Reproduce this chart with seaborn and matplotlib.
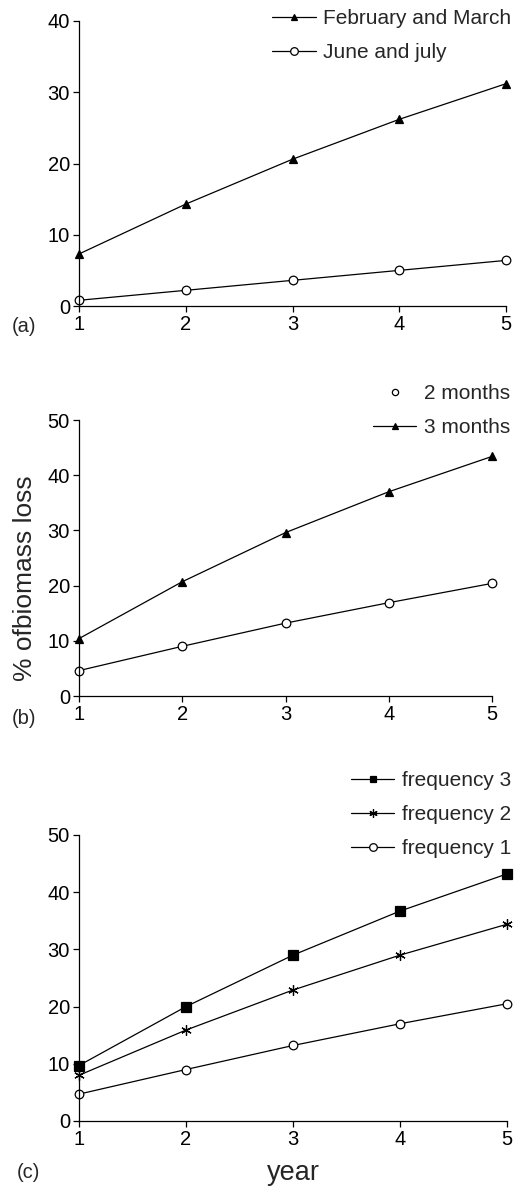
import matplotlib
matplotlib.use("Agg")
import matplotlib.pyplot as plt
from matplotlib.lines import Line2D
import seaborn as sns
import pandas as pd

# ---- data ----
years = [1, 2, 3, 4, 5]
feb_march = [7.3, 14.3, 20.6, 26.2, 31.2]
june_july = [0.8, 2.2, 3.6, 5.0, 6.4]
two_months = [4.6, 9.0, 13.2, 16.9, 20.4]
three_months = [10.4, 20.7, 29.6, 37.0, 43.4]
freq3 = [9.7, 20.0, 29.0, 36.7, 43.2]
freq2 = [8.0, 15.9, 22.9, 29.0, 34.4]
freq1 = [4.7, 9.0, 13.2, 17.0, 20.5]

yticks_a = [0, 10, 20, 30, 40]
yticks_bc = [0, 10, 20, 30, 40, 50]

sns.set_style("ticks")
plt.rcParams['font.family'] = ['Liberation Sans', 'DejaVu Sans']

W, H = 523, 1189
fig = plt.figure(figsize=(W / 100, H / 100), dpi=100)


def px_axes(left, right, top, bottom):
    return fig.add_axes([left / W, 1 - bottom / H, (right - left) / W, (bottom - top) / H])


ax_a = px_axes(79, 506, 21, 306)
ax_b = px_axes(79, 492, 420, 696)
ax_c = px_axes(79, 507, 835, 1121)

MS = 6.2
LW = 0.9
STAR = (6, 2, 0)


def draw(ax, y, marker, fc, ms=MS):
    df = pd.DataFrame({"year": years, "val": y})
    sns.lineplot(data=df, x="year", y="val", ax=ax, color="black", linewidth=LW,
                 marker=marker, markersize=ms, markerfacecolor=fc,
                 markeredgecolor="black", markeredgewidth=0.9, clip_on=False,
                 errorbar=None, legend=False)


draw(ax_a, feb_march, "^", "black")
draw(ax_a, june_july, "o", "white")

draw(ax_b, two_months, "o", "white")
draw(ax_b, three_months, "^", "black")

draw(ax_c, freq3, "s", "black", ms=6.5)
draw(ax_c, freq2, STAR, "black", ms=7.5)
draw(ax_c, freq1, "o", "white")

TICK_FS = 14.5
for ax, yt in [(ax_a, yticks_a), (ax_b, yticks_bc), (ax_c, yticks_bc)]:
    ax.set_xlim(1, 5)
    ax.set_ylim(yt[0], yt[-1])
    ax.set_xticks(years)
    ax.set_yticks(yt)
    ax.set_xlabel("")
    ax.set_ylabel("")
    sns.despine(ax=ax)
    for s in ["left", "bottom"]:
        ax.spines[s].set_color("black")
        ax.spines[s].set_linewidth(0.9)
    ax.tick_params(axis="both", direction="out", length=4.5, width=0.9,
                   color="black", labelsize=TICK_FS, labelcolor="black", pad=2.0)


def handle(marker, fc, line=True, ms=5.0):
    return Line2D([], [], color="black", linewidth=LW if line else 0,
                  linestyle="-" if line else "None", marker=marker, markersize=ms,
                  markerfacecolor=fc, markeredgecolor="black", markeredgewidth=0.9)


LEG_KW = dict(frameon=False, fontsize=15, handlelength=2.1, handletextpad=0.35,
              labelspacing=0.72, borderaxespad=0, borderpad=0, loc="upper right",
              bbox_transform=fig.transFigure)

ax_a.legend([handle("^", "black"), handle("o", "white", ms=5.5)],
            ["February and March", "June and july"],
            bbox_to_anchor=(511 / W, 1 - 9 / H), **LEG_KW)
ax_b.legend([handle("o", "white", line=False, ms=4.5), handle("^", "black")],
            ["2 months", "3 months"],
            bbox_to_anchor=(510 / W, 1 - 384 / H), **LEG_KW)
ax_c.legend([handle("s", "black"), handle(STAR, "black", ms=6), handle("o", "white", ms=5.5)],
            ["frequency 3", "frequency 2", "frequency 1"],
            bbox_to_anchor=(511 / W, 1 - 771 / H), **LEG_KW)

# axis titles
ax_b.set_ylabel("% ofbiomass loss", fontsize=19)
ax_b.yaxis.label.set_va("center")
ax_b.yaxis.set_label_coords((25 - 79) / 413, (696 - 578) / 276)

ax_c.set_xlabel("year", fontsize=19.5)
ax_c.xaxis.label.set_va("center")
ax_c.xaxis.set_label_coords(0.5, -(1173 - 1121) / 286)

# panel labels
fig.text(24 / W, 1 - 326 / H, "(a)", fontsize=TICK_FS, ha="center", va="center")
fig.text(24 / W, 1 - 718 / H, "(b)", fontsize=TICK_FS, ha="center", va="center")
fig.text(28 / W, 1 - 1173 / H, "(c)", fontsize=TICK_FS, ha="center", va="center")

fig.savefig("out.png", dpi=100)
